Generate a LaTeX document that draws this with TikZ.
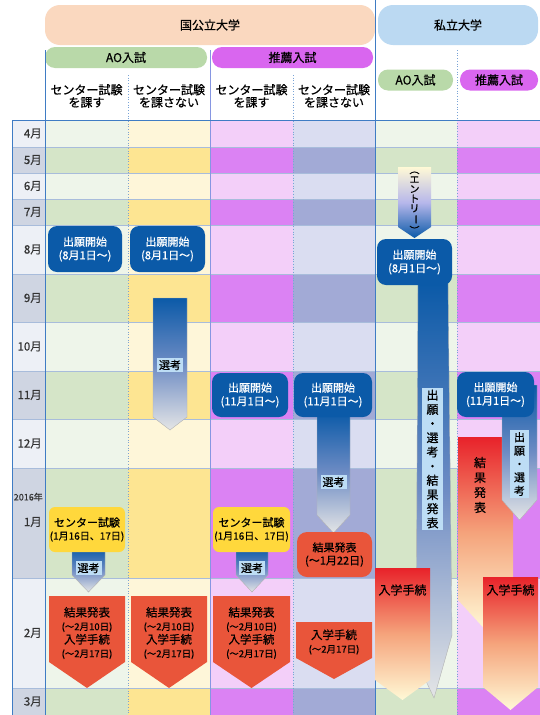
\documentclass[tikz,border=0pt]{standalone}
\usepackage{fontspec}
\newfontfamily\jp[FakeBold=0.6]{Noto Sans CJK JP}
\usepackage{graphicx}
\definecolor{gL}{HTML}{EEF5EA}\definecolor{gD}{HTML}{D5E5C8}
\definecolor{yL}{HTML}{FEF6D9}\definecolor{yD}{HTML}{FDE592}
\definecolor{mL}{HTML}{F3CFF9}\definecolor{mD}{HTML}{DB82F3}
\definecolor{bL}{HTML}{DADDF1}\definecolor{bD}{HTML}{A2AAD6}
\definecolor{kL}{HTML}{EDF0F6}\definecolor{kD}{HTML}{CFD5E2}
\definecolor{dblue}{HTML}{0B5AA8}
\definecolor{lgray}{HTML}{E4E5E6}
\definecolor{mblue}{HTML}{6E8CC4}
\definecolor{redo}{HTML}{E9553A}
\definecolor{yel}{HTML}{FFD83C}
\definecolor{lblue}{HTML}{BDDDF5}
\definecolor{peach}{HTML}{FAD8BF}
\definecolor{skyb}{HTML}{BBD9F2}
\definecolor{aog}{HTML}{B9D9A9}
\definecolor{suim}{HTML}{D966EF}
\definecolor{redt}{HTML}{E8222A}
\definecolor{pm}{HTML}{F5A47C}
\definecolor{ly}{HTML}{FFF9D6}
\definecolor{gridc}{HTML}{A8BCDB}
\definecolor{frame}{HTML}{3F7CC4}
\newcommand\rotv[1]{\rotatebox[origin=c]{-90}{#1}}
\newcommand\sm{\fontsize{9.5}{11}\selectfont}
\begin{document}
\begin{tikzpicture}[x=1pt,y=-1pt,font=\jp,
  pill/.style={inner sep=0pt,font=\jp\fontsize{12}{14}\selectfont},
  hdr/.style={align=center,inner sep=0pt,font=\jp\fontsize{12}{12.5}\selectfont},
  mon/.style={anchor=east,inner sep=0pt,text=black!80,font=\jp\fontsize{11.5}{13}\selectfont},
  blubox/.style={fill=dblue,rounded corners=9pt,text=white,align=center,inner sep=0pt,font=\jp\fontsize{11}{13.5}\selectfont},
  yelbox/.style={fill=yel,rounded corners=6pt,align=center,inner sep=0pt,font=\jp\fontsize{11}{13}\selectfont},
  redbox/.style={fill=redo,rounded corners=10pt,align=center,inner sep=0pt,font=\jp\fontsize{11}{13}\selectfont},
  txt/.style={align=center,inner sep=0pt,font=\jp\fontsize{11.5}{13.5}\selectfont},
  lbl/.style={fill=lblue,inner sep=2pt,font=\jp\fontsize{11}{13}\selectfont},
  vlbl/.style={fill=lblue,inner sep=0pt,align=center},
  blueshade/.style={top color=dblue,bottom color=lgray,middle color=mblue,draw=gray!60,line width=0.4pt},
  redshade/.style={top color=redt,bottom color=ly,middle color=pm}]
\useasboundingbox (0,0) rectangle (540,715);
\fill[white] (0,0) rectangle (540,715);
% header pills
\node[pill,fill=peach,rounded corners=15pt,minimum width=330,minimum height=40] (kokko) at (210,25) {国公立大学};
\node[pill,fill=skyb,rounded corners=15pt,minimum width=160,minimum height=40] (shiritsu) at (458,25) {私立大学};
\node[pill,fill=aog,rounded corners=10pt,minimum width=162,minimum height=21] (ao1) at (126,57.5) {AO入試};
\node[pill,fill=suim,rounded corners=10pt,minimum width=161,minimum height=21] (su1) at (292.5,57.5) {推薦入試};
\node[pill,fill=aog,rounded corners=10pt,minimum width=75,minimum height=21] (ao2) at (415.5,80) {AO入試};
\node[pill,fill=suim,rounded corners=10pt,minimum width=78,minimum height=21] (su2) at (499,80) {推薦入試};
\node[hdr] (h1) at (86.5,96) {センター試験\\を課す};
\node[hdr] (h2) at (169,96) {センター試験\\を課さない};
\node[hdr] (h3) at (251.5,96) {センター試験\\を課す};
\node[hdr] (h4) at (334,96) {センター試験\\を課さない};
% body background
\foreach \ya/\yb/\t in {120/147/L,147/173/D,173/199/L,199/225/D,225/274/L,274/322/D,322/371/L,371/419/D,419/468/L,468/578/D,578/688/L,688/715/D}{
  \fill[fill=k\t] (12,\ya) rectangle (45,\yb);
  \fill[fill=g\t] (45,\ya) rectangle (128,\yb);
  \fill[fill=y\t] (128,\ya) rectangle (210,\yb);
  \fill[fill=m\t] (210,\ya) rectangle (293,\yb);
  \fill[fill=b\t] (293,\ya) rectangle (375,\yb);
  \fill[fill=g\t] (375,\ya) rectangle (457,\yb);
  \fill[fill=m\t] (457,\ya) rectangle (540,\yb);
}
\foreach \yy in {147,173,199,225,274,322,371,419,468,578,688}{
  \draw[gridc,line width=0.7pt] (12,\yy) -- (540,\yy);
}
\draw[gridc!80!blue,line width=0.8pt] (210,50) -- (210,715);
\foreach \xx in {128,293}{\draw[frame!70,dotted,line width=0.7pt] (\xx,75) -- (\xx,715);}
\draw[frame!70,dotted,line width=0.7pt] (457,50) -- (457,715);
\draw[frame,line width=1pt] (12,120) -- (540,120);
\draw[frame,line width=1pt] (12,120) -- (12,715);
\draw[frame,line width=1pt] (45,50) -- (45,715);
\draw[frame,line width=1pt] (375,0) -- (375,715);
% month labels
\node[mon] (m4) at (42,133.5) {4月};
\node[mon] (m5) at (42,160) {5月};
\node[mon] (m6) at (42,186) {6月};
\node[mon] (m7) at (42,212) {7月};
\node[mon] (m8) at (42,249.5) {8月};
\node[mon] (m9) at (42,298) {9月};
\node[mon] (m10) at (42,346.5) {10月};
\node[mon] (m11) at (42,395) {11月};
\node[mon] (m12) at (42,443.5) {12月};
\node[mon,font=\jp\fontsize{9}{11}\selectfont] (y2016) at (43,497) {2016年};
\node[mon] (m1) at (42,522) {1月};
\node[mon] (m2) at (42,633) {2月};
\node[mon] (m3) at (42,701.5) {3月};
% col2 senko
\path[blueshade] (153,298) -- (187,298) -- (187,417) -- (170,430) -- (153,417) -- cycle;
\node[lbl] (s2) at (170,365) {選考};
% 8月 boxes
\node[blubox,minimum width=74,minimum height=46] (app1) at (85,249) {出願開始\\(8月1日〜)};
\node[blubox,minimum width=75,minimum height=46] (app2) at (167.5,249) {出願開始\\(8月1日〜)};
% private AO
\path[top color=ly,bottom color=dblue,middle color=lgray!80!blue] (398,167) -- (431,167) -- (431,227) -- (414.5,238) -- (398,227) -- cycle;
\node[align=center,inner sep=0pt,font=\jp\fontsize{10}{9.6}\selectfont] (entry) at (414.5,200) {\rotv{（}\\エ\\ン\\ト\\リ\\\rotv{ー}\\\rotv{）}};
\path[blueshade] (418,283) -- (448,283) -- (452,635) -- (434,698) -- (416,660) -- cycle;
\node[vlbl,minimum width=21,minimum height=142,font=\jp\fontsize{12}{14.2}\selectfont] (blbl) at (432.5,459) {出\\願\\・\\選\\考\\・\\結\\果\\発\\表};
\node[blubox,minimum width=75,minimum height=46] (app5) at (414.5,262) {出願開始\\(8月1日〜)};
\path[redshade] (375,568) -- (430,568) -- (430,680) -- (402.5,700) -- (375,680) -- cycle;
\node[txt,font=\jp\fontsize{12}{14}\selectfont] (nyu5) at (402.5,590) {入学手続};
% 11月 col3/col4
\path[blueshade] (317,412) -- (350,412) -- (350,515) -- (333.5,533) -- (317,515) -- cycle;
\node[lbl] (s4) at (333.5,482) {選考};
\node[blubox,minimum width=76,minimum height=44] (app3) at (250,395) {出願開始\\(11月1日〜)};
\node[blubox,minimum width=78,minimum height=44] (app4) at (333,395) {出願開始\\(11月1日〜)};
\node[redbox,minimum width=75,minimum height=45] (res4) at (334.5,554.5) {結果発表\\(〜1月22日)};
\path[fill=redo] (296,622) -- (372,622) -- (372,658) -- (334,679) -- (296,658) -- cycle;
\node[txt] (nyu4) at (334,642) {入学手続\\{\sm(〜2月17日)}};
% center exam col1/col3
\path[blueshade] (72,548) -- (105,548) -- (105,575) -- (88.5,592) -- (72,575) -- cycle;
\path[blueshade] (236,548) -- (268,548) -- (268,575) -- (252,592) -- (236,575) -- cycle;
\node[yelbox,minimum width=76,minimum height=45] (c1) at (87,529.5) {センター試験\\{\fontsize{10}{12}\selectfont(1月16日、17日)}};
\node[yelbox,minimum width=77,minimum height=45] (c3) at (251.5,529.5) {センター試験\\{\fontsize{10}{12}\selectfont(1月16日、17日)}};
\node[lbl] (s1) at (88.5,568) {選考};
\node[lbl] (s3) at (252,568) {選考};
% result pentagons
\path[fill=redo] (49,596) -- (125,596) -- (125,662) -- (87,688) -- (49,662) -- cycle;
\path[fill=redo] (131,596) -- (207,596) -- (207,662) -- (169,688) -- (131,662) -- cycle;
\path[fill=redo] (213,596) -- (290,596) -- (290,662) -- (251.5,688) -- (213,662) -- cycle;
\node[txt] (r1) at (87,633) {結果発表\\{\sm(〜2月10日)}\\入学手続\\{\sm(〜2月17日)}};
\node[txt] (r2) at (169,633) {結果発表\\{\sm(〜2月10日)}\\入学手続\\{\sm(〜2月17日)}};
\node[txt] (r3) at (251.5,633) {結果発表\\{\sm(〜2月10日)}\\入学手続\\{\sm(〜2月17日)}};
% private suisen
\path[redshade] (458,437) -- (513,437) -- (513,600) -- (485.5,630) -- (458,600) -- cycle;
\node[align=center,inner sep=0pt,font=\jp\fontsize{12}{15}\selectfont] (kk6) at (480,485) {結\\果\\発\\表};
\path[blueshade] (502,385) -- (537,385) -- (537,500) -- (519.5,520) -- (502,500) -- cycle;
\node[vlbl,minimum width=19,minimum height=68,font=\jp\fontsize{11}{13.4}\selectfont] (s6) at (519.5,464) {出\\願\\・\\選\\考};
\node[blubox,minimum width=77,minimum height=45] (app6) at (495.5,394.5) {出願開始\\(11月1日〜)};
\path[redshade] (483,577) -- (538,577) -- (538,687) -- (510.5,710) -- (483,687) -- cycle;
\node[txt,font=\jp\fontsize{12}{14}\selectfont] (nyu6) at (510.5,590) {入学手続};
\end{tikzpicture}
\end{document}
